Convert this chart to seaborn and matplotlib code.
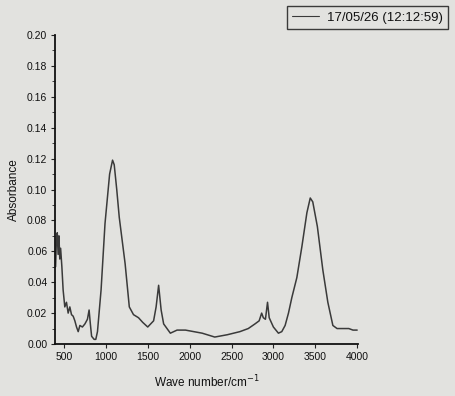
import numpy as np
import pandas as pd
import matplotlib
matplotlib.use("Agg")
import matplotlib.pyplot as plt
import seaborn as sns
from matplotlib.ticker import MultipleLocator

# Spectrum (wave number in cm^-1, absorbance)
wavenumber = [400, 410, 420, 430, 440, 450, 460, 475, 490, 510, 530, 550, 570, 590,
              610, 630, 650, 670, 690, 720, 750, 780, 800, 815, 830, 860, 880, 900,
              943, 990, 1045, 1080, 1100, 1130, 1160, 1230, 1280, 1330, 1390, 1440,
              1500, 1570, 1600, 1630, 1660, 1690, 1730, 1770, 1850, 1950, 2050, 2150,
              2300, 2450, 2600, 2700, 2780, 2830, 2860, 2880, 2905, 2930, 2950, 3000,
              3060, 3100, 3140, 3180, 3220, 3280, 3340, 3400, 3440, 3470, 3525, 3590,
              3650, 3710, 3760, 3830, 3900, 3950, 4000]
absorbance = [0.050, 0.068, 0.072, 0.058, 0.070, 0.055, 0.062, 0.050, 0.035, 0.024, 0.027, 0.020, 0.024, 0.019,
              0.018, 0.015, 0.011, 0.008, 0.012, 0.011, 0.013, 0.016, 0.022, 0.013, 0.005, 0.003, 0.003, 0.008,
              0.035, 0.078, 0.110, 0.119, 0.116, 0.100, 0.082, 0.052, 0.024, 0.019, 0.017, 0.014,
              0.011, 0.015, 0.024, 0.038, 0.022, 0.013, 0.010, 0.007, 0.009, 0.009, 0.008, 0.007,
              0.0045, 0.006, 0.008, 0.010, 0.013, 0.015, 0.020, 0.017, 0.016, 0.027, 0.017, 0.011,
              0.007, 0.008, 0.012, 0.020, 0.030, 0.043, 0.063, 0.085, 0.0945, 0.092, 0.076, 0.048,
              0.027, 0.012, 0.010, 0.010, 0.010, 0.009, 0.009]
series_label = "17/05/26 (12:12:59)"
x_ticks = [500, 1000, 1500, 2000, 2500, 3000, 3500, 4000]
y_ticks = [0.00, 0.02, 0.04, 0.06, 0.08, 0.10, 0.12, 0.14, 0.16, 0.18, 0.20]

df = pd.DataFrame({"wn": wavenumber, "abs": absorbance, "series": series_label})

sns.set_style("ticks")
plt.rcParams["font.family"] = ["Liberation Sans Narrow", "Liberation Sans", "DejaVu Sans"]

bg = "#e2e2df"
fig = plt.figure(figsize=(4.55, 3.96), dpi=100, facecolor=bg)
ax = fig.add_axes([55 / 455, 1 - 344 / 396, 303 / 455, 309 / 396])
ax.set_facecolor(bg)

sns.lineplot(data=df, x="wn", y="abs", hue="series", palette=["#3a3a3a"],
             linewidth=1.1, ax=ax, legend=False, sort=False)

ax.set_xlim(393, 4010)
ax.set_ylim(0, 0.2)
ax.set_xticks(x_ticks)
ax.set_xticklabels([str(t) for t in x_ticks])
ax.set_yticks(y_ticks)
ax.set_yticklabels([f"{t:.2f}" for t in y_ticks])
ax.yaxis.set_minor_locator(MultipleLocator(0.01))
ax.tick_params(axis="both", which="major", labelsize=7.5, length=3, width=0.8,
               color="#222222", labelcolor="#111111", pad=2.5)
ax.tick_params(axis="y", which="minor", length=2, width=0.6)
for s in ["top", "right"]:
    ax.spines[s].set_visible(False)
for s in ["left", "bottom"]:
    ax.spines[s].set_color("#111111")
    ax.spines[s].set_linewidth(1.3)

ax.set_xlabel("Wave number/cm$^{-1}$", fontsize=8.5, color="#111111", labelpad=9)
ax.set_ylabel("Absorbance", fontsize=8.5, color="#111111", labelpad=5)

handle = plt.Line2D([], [], color="#3a3a3a", linewidth=0.8)
leg = fig.legend([handle], [series_label], loc="upper left",
                 bbox_to_anchor=(287 / 455, 1 - 6 / 396), fontsize=9.5,
                 fancybox=False, frameon=True, edgecolor="#111111",
                 facecolor=bg, borderpad=0.4, handlelength=2.0,
                 handletextpad=0.6, borderaxespad=0)
leg.get_frame().set_linewidth(1.0)
leg.get_texts()[0].set_color("#111111")

fig.savefig("out.png", dpi=100, facecolor=bg)
